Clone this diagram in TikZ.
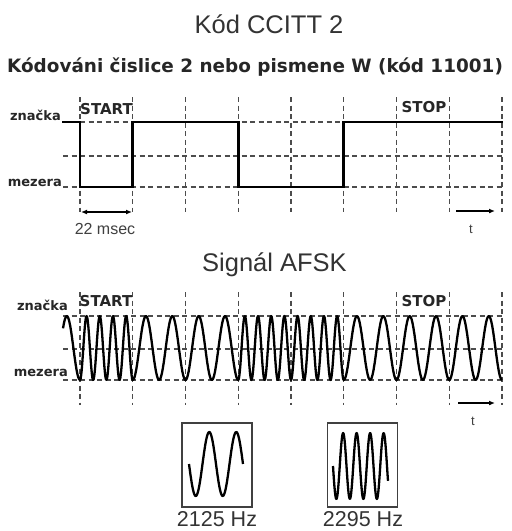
\documentclass[tikz,border=0pt]{standalone}
\usepackage{fontspec}
\setmainfont{Liberation Sans}
\newfontfamily\dvfont{DejaVu Sans}
\usetikzlibrary{arrows.meta}
\begin{document}
\begin{tikzpicture}[x=1pt,y=-1pt,
  gridline/.style={draw=black!70, line width=1.3pt, dash pattern=on 5pt off 3.5pt},
  sigline/.style={line width=2.8pt, line join=miter, line cap=rect},
  waveline/.style={line width=2.3pt, line join=round},
  lab/.style={font=\dvfont\bfseries\fontsize{13}{13}\selectfont, text=black!85, inner sep=0pt},
  biglab/.style={font=\dvfont\bfseries\fontsize{15}{15}\selectfont, text=black!85, inner sep=0pt},
  ttl/.style={font=\fontsize{25.5}{25.5}\selectfont, text=black!80, inner sep=0pt},
  subttl/.style={font=\dvfont\bfseries\fontsize{18.4}{18.4}\selectfont, text=black!85, inner sep=0pt},
  small/.style={font=\fontsize{16}{16}\selectfont, text=black!75, inner sep=0pt},
  hz/.style={font=\fontsize{21.5}{21.5}\selectfont, text=black!80, inner sep=0pt},
  fbox/.style={draw=black!75, line width=1.8pt, minimum width=70pt, minimum height=84pt, inner sep=0pt},
  dimarrow/.style={line width=1.6pt, -{Latex[length=6pt,width=5pt]}}
]
\useasboundingbox (0,0) rectangle (512,531);
\fill[white] (0,0) rectangle (512,531);

% titles
\node[ttl, anchor=base] (t1) at (269,33) {Kód CCITT 2};
\node[subttl, anchor=base] (t2) at (255,72) {Kódováni čislice 2 nebo pismene W (kód 11001)};
\node[ttl, anchor=base] (t3) at (274.5,271) {Signál AFSK};

% ---------- grids ----------
\foreach \i in {0,...,8} {
  \draw[gridline] ({80+52.75*\i},97) -- ({80+52.75*\i},212);
  \draw[gridline] ({80+52.75*\i},292) -- ({80+52.75*\i},405);
}
\foreach \yy in {122,156,187} \draw[gridline] (63,\yy) -- (502,\yy);
\foreach \yy in {316,349,380} \draw[gridline] (63,\yy) -- (502,\yy);

% ---------- top diagram ----------
\node[lab, anchor=base east] (zn1) at (61,120) {značka};
\node[lab, anchor=base east] (me1) at (62,186) {mezera};
\node[biglab, anchor=base] (st1) at (106.5,114) {START};
\node[biglab, anchor=base] (sp1) at (424,112) {STOP};

\draw[sigline] (63,122) -- (80,122) -- (80,187) -- (132.75,187) -- (132.75,122)
  -- (238.25,122) -- (238.25,187) -- (343.75,187) -- (343.75,122) -- (502,122);

\coordinate (d1) at (81,212);
\coordinate (d2) at (132,212);
\draw[dimarrow, {Latex[length=6pt,width=5pt]}-{Latex[length=6pt,width=5pt]}] (d1) -- (d2);
\node[small, anchor=base] (ms) at (105,234) {22 msec};
\coordinate (a1) at (456,211);
\coordinate (a2) at (495,211);
\draw[dimarrow] (a1) -- (a2);
\node[small, anchor=base, font=\fontsize{13}{13}\selectfont] (tt1) at (471,233) {t};

% ---------- AFSK ----------
\node[lab, anchor=base east] (zn2) at (68,310) {značka};
\node[lab, anchor=base east] (me2) at (68,376) {mezera};
\node[biglab, anchor=base] (st2) at (106,306) {START};
\node[biglab, anchor=base] (sp2) at (424,306) {STOP};

\draw[waveline]
  plot[domain=63:80, samples=20] (\x,{348+32*cos(720/52.75*(\x-80))})
  -- plot[domain=80:132.75, samples=90] (\x,{348+32*cos(1440/52.75*(\x-80))})
  -- plot[domain=132.75:238.25, samples=120] (\x,{348+32*cos(720/52.75*(\x-132.75))})
  -- plot[domain=238.25:343.75, samples=200] (\x,{348+32*cos(1440/52.75*(\x-238.25))})
  -- plot[domain=343.75:502, samples=160] (\x,{348+32*cos(720/52.75*(\x-343.75))});

\coordinate (a3) at (458,403);
\coordinate (a4) at (495,403);
\draw[dimarrow] (a3) -- (a4);
\node[small, anchor=base, font=\fontsize{13}{13}\selectfont] (tt2) at (473,425) {t};

% ---------- frequency boxes ----------
\node[fbox] (b1) at (217,465) {};
\node[fbox] (b2) at (362.5,465) {};
\draw[waveline] plot[domain=189:243, samples=80] (\x,{464+32*sin(720/54*(\x-189))});
\draw[waveline] plot[domain=333:388, samples=120] (\x,{466+33*sin(360/13.5*(\x-333))});
\node[hz, anchor=base] (h1) at (217,526) {2125 Hz};
\node[hz, anchor=base] (h2) at (363,526) {2295 Hz};
\end{tikzpicture}
\end{document}
